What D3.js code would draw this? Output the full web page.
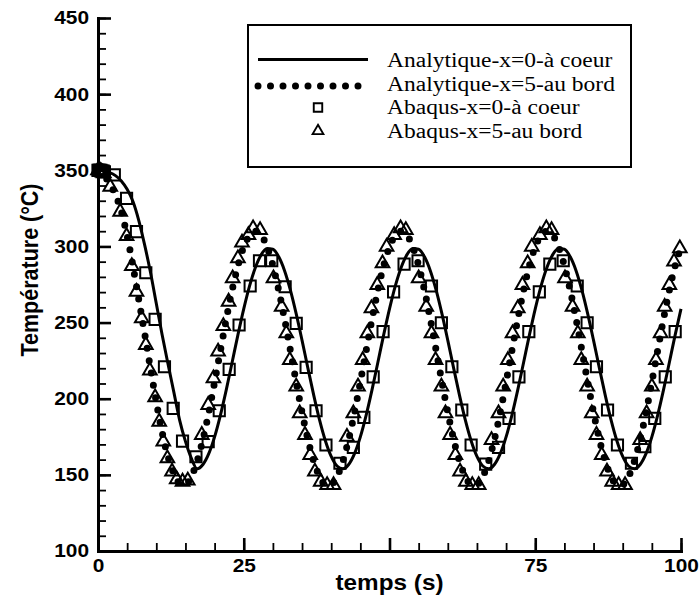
<!DOCTYPE html>
<html>
<head>
<meta charset="utf-8">
<script src="https://cdn.jsdelivr.net/npm/d3@7"></script>
<style>
  body { margin: 0; background: #fff; }
</style>
</head>
<body>
<svg id="chart" width="699" height="603"></svg>
<script>
// analytic curves, read every 1 s (t = 0..100)
const anaTime = d3.range(0, 101);
const anaCore = [
  350, 349.5, 348.5, 346.5, 343, 337.5, 329.5, 317, 301, 283, 262.5, 242, 223, 204.5, 186, 172, 161,
  154.0, 156.8, 163.9, 174.9, 189.2, 205.8, 223.8, 241.9, 259.0, 274.1, 286.2, 294.6, 298.6, 298.2, 293.2, 284.1, 271.3, 255.7, 238.3, 220.1, 202.4, 186.1, 172.4, 162.1, 155.8,
  154.0, 156.8, 163.9, 174.9, 189.2, 205.8, 223.8, 241.9, 259.0, 274.1, 286.2, 294.6, 298.6, 298.2, 293.2, 284.1, 271.3, 255.7, 238.3, 220.1, 202.4, 186.1, 172.4, 162.1, 155.8,
  154.0, 156.8, 163.9, 174.9, 189.2, 205.8, 223.8, 241.9, 259.0, 274.1, 286.2, 294.6, 298.6, 298.2, 293.2, 284.1, 271.3, 255.7, 238.3, 220.1, 202.4, 186.1, 172.4, 162.1, 155.8,
  154.0, 156.8, 163.9, 174.9, 189.2, 205.8, 223.8, 241.9, 259.0
];
const anaEdge = [
  350, 347, 341, 334, 323, 307, 287, 265, 243, 220, 198, 178, 162, 151, 144.5,
  143.7, 148.9, 159.0, 173.3, 191.0, 210.9, 231.7, 252.3, 271.2, 287.4, 299.7, 307.4, 310.0, 307.4, 299.7, 287.4, 271.2, 252.3, 231.7, 210.9, 191.0, 173.3, 159.0, 148.9, 143.7,
  143.7, 148.9, 159.0, 173.3, 191.0, 210.9, 231.7, 252.3, 271.2, 287.4, 299.7, 307.4, 310.0, 307.4, 299.7, 287.4, 271.2, 252.3, 231.7, 210.9, 191.0, 173.3, 159.0, 148.9, 143.7,
  143.7, 148.9, 159.0, 173.3, 191.0, 210.9, 231.7, 252.3, 271.2, 287.4, 299.7, 307.4, 310.0, 307.4, 299.7, 287.4, 271.2, 252.3, 231.7, 210.9, 191.0, 173.3, 159.0, 148.9, 143.7,
  143.7, 148.9, 159.0, 173.3, 191.0, 210.9, 231.7, 252.3, 271.2, 287.4, 299.7
];

// Abaqus x=0 (squares)
const abqCoreTime = [
  0, 0.15, 0.3, 0.5, 0.7, 0.9, 1.1,
  2.8, 4.9, 6.6, 8.2, 9.8, 11.4, 12.9, 14.5, 16.8, 18.9, 20.8, 22.5, 24.2, 26.1,
  27.7, 29.8, 32.1, 34.0, 35.7, 37.4, 39.1, 41.5, 43.8, 45.6, 47.2, 48.9, 50.7,
  52.5, 54.9, 57.2, 58.9, 60.7, 62.4, 64.0, 66.5, 68.7, 70.5, 72.2, 73.9, 75.7,
  77.5, 79.8, 82.2, 83.9, 85.5, 87.4, 89.1, 91.5, 93.8, 95.5, 97.3, 99.0
];
const abqCoreTemp = [
  350, 350, 350, 350, 349.5, 349.5, 349,
  347, 331.6, 309.7, 282.7, 252.1, 221, 193.7, 172.2, 161.9, 171.8, 192.1, 219.3, 248.4, 274,
  290.6, 290.6, 273.5, 249.5, 220.6, 192.1, 169.6, 157.6, 168.1, 187.8, 214.4, 244, 270.2,
  288.4, 290.6, 274, 249.9, 221, 192.6, 169.6, 157.1, 168.1, 187.1, 214.4, 244, 270.2,
  288.4, 290.6, 274, 249.9, 221, 192.6, 169.6, 157.6, 168.5, 187.1, 214.4, 244
];

// Abaqus x=5 (triangles)
const abqEdgeTime = [
  0, 0.2, 0.4, 0.6, 0.8, 1.0,
  2.1, 3.8, 4.9, 5.8, 6.6, 7.5, 8.2, 8.9, 9.8, 10.5, 11.2, 11.9, 12.7, 13.5, 14.5, 15.4,
  17.8, 18.9, 19.8, 20.6, 21.5, 22.4, 23.1, 24.0, 24.7, 25.8, 26.6, 27.8,
  30.1, 31.5, 32.3, 32.9, 34.0, 34.6, 35.5, 36.4, 37.2, 38.2, 39.3, 40.4,
  42.7, 43.8, 44.6, 45.4, 46.2, 46.9, 47.9, 48.8, 49.5, 50.8, 51.9, 52.8,
  55.0, 56.3, 57.2, 57.9, 58.9, 59.6, 60.4, 61.3, 62.1, 63.1, 64.2, 65.3,
  67.5, 68.7, 69.5, 70.3, 71.1, 72.0, 72.8, 73.7, 74.4, 75.8, 76.9, 77.8,
  80.1, 81.4, 82.3, 82.9, 83.9, 84.7, 85.5, 86.4, 87.3, 88.2, 89.3, 90.4,
  93.0, 94.1, 95.0, 95.7, 96.5, 97.2, 98.0, 98.8, 99.8
];
const abqEdgeTemp = [
  350, 350, 349.5, 349, 348.5, 348,
  339.2, 322.8, 306.8, 287.1, 270.2, 252.8, 235.3, 218.4, 200.9, 184.9, 171.8, 160.9, 152.1, 147.1, 145.5, 146.2,
  176.2, 195.9, 213.4, 230.9, 247.7, 263.7, 279.1, 292.2, 302.5, 307.5, 311.9, 310.8,
  279.1, 260.4, 242.9, 225.4, 207.9, 190.4, 176.2, 163, 152.1, 145.5, 143.3, 143.3,
  175, 190.4, 207.9, 225.4, 242.9, 259.3, 274.7, 288.9, 299.8, 307.5, 311.9, 310.8,
  279.1, 260.4, 242.9, 225.4, 207.9, 190.4, 176.2, 163, 152.1, 145.5, 143.3, 143.3,
  172.9, 190.4, 207.9, 225.4, 242.9, 259.3, 274.7, 288.9, 299.8, 307.5, 311.9, 310.8,
  279.1, 260.4, 242.9, 225.4, 207.9, 190.4, 176.2, 163, 152.1, 145.5, 143.3, 143.3,
  172.9, 190.4, 207.9, 225.4, 242.9, 260.4, 274.7, 290, 298.8
];

const xTicks = [0, 25, 50, 75, 100];
const xHiddenLabels = [50]; // sits under "temps (s)" in the original, not visible
const yTicks = [100, 150, 200, 250, 300, 350, 400, 450];
const legendLabels = [
  "Analytique-x=0-à coeur",
  "Analytique-x=5-au bord",
  "Abaqus-x=0-à coeur",
  "Abaqus-x=5-au bord"
];

const svg = d3.select("#chart");
const sx = 1.13; // the picture is a bit stretched horizontally

const x = d3.scaleLinear().domain([0, 100]).range([98, 681]);
const y = d3.scaleLinear().domain([100, 450]).range([551, 18]);

const sans = "'Liberation Sans', Arial, sans-serif";
const serif = "'Liberation Serif', 'Times New Roman', serif";

// minor ticks
svg.append("g")
  .attr("transform", "translate(98,0)")
  .call(d3.axisLeft(y).tickValues(d3.range(100, 451, 10)).tickSize(-8).tickFormat(""))
  .call(g => g.select(".domain").remove())
  .call(g => g.selectAll("line").attr("stroke-width", 1.8));
svg.append("g")
  .attr("transform", "translate(0,551)")
  .call(d3.axisBottom(x).tickValues(d3.range(0, 101, 5)).tickSize(-8).tickFormat(""))
  .call(g => g.select(".domain").remove())
  .call(g => g.selectAll("line").attr("stroke-width", 1.8));

// major axes
const yAxis = svg.append("g")
  .attr("transform", "translate(98,0)")
  .call(d3.axisLeft(y).tickValues(yTicks).tickSize(-13).tickSizeOuter(0).tickPadding(9));
const xAxis = svg.append("g")
  .attr("transform", "translate(0,551)")
  .call(d3.axisBottom(x).tickValues(xTicks).tickSize(-13).tickSizeOuter(0).tickPadding(7.5)
    .tickFormat(d => xHiddenLabels.includes(d) ? "" : d));

[yAxis, xAxis].forEach(g => {
  g.select(".domain").attr("stroke-width", 3).attr("stroke-linecap", "square");
  g.selectAll(".tick line").attr("stroke-width", 2.6);
  g.selectAll("text")
    .attr("fill", "#000")
    .style("font-family", sans)
    .style("font-weight", "bold")
    .style("font-size", "18.5px");
});
yAxis.selectAll("text").attr("x", 0).attr("transform", `translate(-9,0) scale(${sx},1)`);
xAxis.selectAll("text").attr("transform", `scale(${sx},1)`);

// axis titles
svg.append("text")
  .attr("transform", `translate(389.5,590) scale(${sx},1)`)
  .attr("text-anchor", "middle")
  .style("font-family", sans).style("font-weight", "bold").style("font-size", "21.5px")
  .text("temps (s)");
svg.append("text")
  .attr("transform", `translate(38,270) scale(${sx},1) rotate(-90)`)
  .attr("text-anchor", "middle")
  .style("font-family", sans).style("font-weight", "bold").style("font-size", "21.5px")
  .text("Température (°C)");

// curves
const line = d3.line()
  .x(i => x(anaTime[i]))
  .curve(d3.curveMonotoneX);

svg.append("path")
  .attr("fill", "none")
  .attr("stroke", "#000")
  .attr("stroke-width", 3)
  .attr("d", line.y(i => y(anaCore[i]))(d3.range(anaTime.length)));

svg.append("path")
  .attr("fill", "none")
  .attr("stroke", "#000")
  .attr("stroke-width", 7)
  .attr("stroke-linecap", "round")
  .attr("stroke-dasharray", "0 12.5")
  .attr("d", line.y(i => y(anaEdge[i]))(d3.range(anaTime.length)));

// markers
const square = d3.symbol(d3.symbolSquare, 125);
const tri = d3.symbol(d3.symbolTriangle, 80);

svg.append("g").selectAll("path")
  .data(abqCoreTime)
  .join("path")
  .attr("transform", (t, i) => `translate(${x(t)},${y(abqCoreTemp[i])})`)
  .attr("d", square())
  .attr("fill", "none")
  .attr("stroke", "#000")
  .attr("stroke-width", 2);

svg.append("g").selectAll("path")
  .data(abqEdgeTime)
  .join("path")
  .attr("transform", (t, i) => `translate(${x(t)},${y(abqEdgeTemp[i])})`)
  .attr("d", tri())
  .attr("fill", "none")
  .attr("stroke", "#000")
  .attr("stroke-width", 2);

// legend
const leg = svg.append("g");
leg.append("rect")
  .attr("x", 248).attr("y", 25).attr("width", 383).attr("height", 142)
  .attr("fill", "#fff").attr("stroke", "#000").attr("stroke-width", 2);

const rowY = [67, 90.5, 114, 137.5];
leg.append("line")
  .attr("x1", 258).attr("x2", 368).attr("y1", rowY[0] - 7.5).attr("y2", rowY[0] - 7.5)
  .attr("stroke", "#000").attr("stroke-width", 3);
leg.append("line")
  .attr("x1", 258).attr("x2", 358.5).attr("y1", rowY[1] - 4.5).attr("y2", rowY[1] - 4.5)
  .attr("stroke", "#000").attr("stroke-width", 7)
  .attr("stroke-linecap", "round").attr("stroke-dasharray", "0 12.5");
leg.append("path")
  .attr("transform", `translate(318,${rowY[2] - 6.5})`)
  .attr("d", d3.symbol(d3.symbolSquare, 72)())
  .attr("fill", "none").attr("stroke", "#000").attr("stroke-width", 1.9);
leg.append("path")
  .attr("transform", `translate(318,${rowY[3] - 6.5})`)
  .attr("d", d3.symbol(d3.symbolTriangle, 50)())
  .attr("fill", "none").attr("stroke", "#000").attr("stroke-width", 1.9);

leg.selectAll("text.lab")
  .data(legendLabels)
  .join("text")
  .attr("class", "lab")
  .attr("transform", (d, i) => `translate(387,${rowY[i]}) scale(${sx},1)`)
  .style("font-family", serif)
  .style("font-size", "20.8px")
  .text(d => d);
</script>
</body>
</html>
